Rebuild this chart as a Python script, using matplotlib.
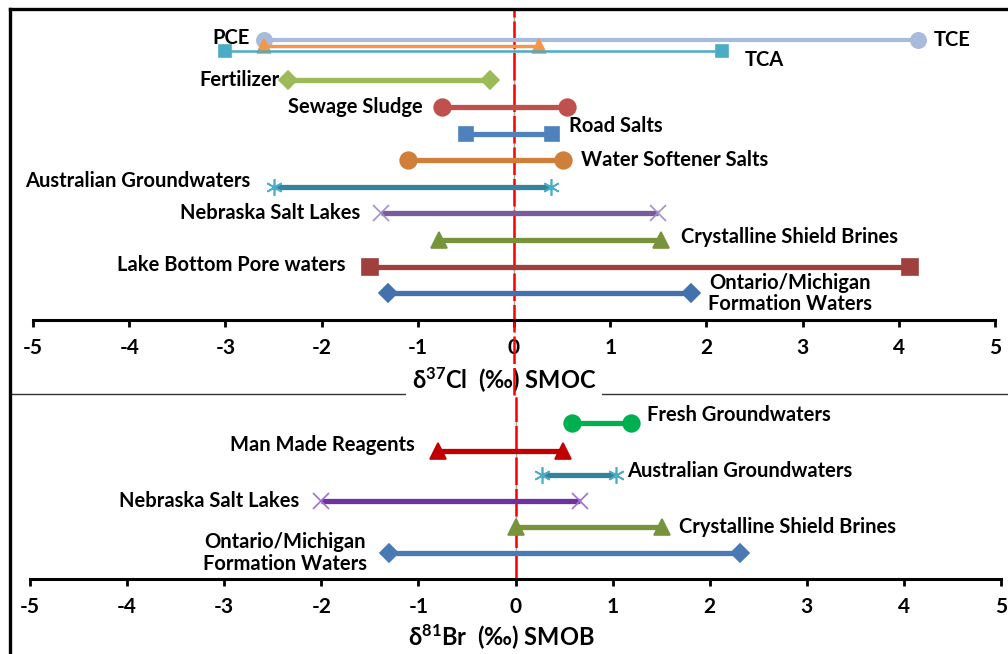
import matplotlib
matplotlib.use('Agg')
import matplotlib.pyplot as plt
from matplotlib.lines import Line2D

plt.rcParams['font.family'] = ['Lato', 'DejaVu Sans']
plt.rcParams['font.weight'] = 'bold'
plt.rcParams['mathtext.fontset'] = 'custom'
plt.rcParams['mathtext.rm'] = 'Lato'
plt.rcParams['mathtext.bf'] = 'Lato:bold'
plt.rcParams['mathtext.it'] = 'Lato:italic'

# ---- chlorine isotopes (top panel) ----
cl_names = ['PCE/TCE', 'DCE', 'TCA', 'Fertilizer', 'Sewage Sludge', 'Road Salts',
            'Water Softener Salts', 'Australian Groundwaters', 'Nebraska Salt Lakes',
            'Crystalline Shield Brines', 'Lake Bottom Pore waters',
            'Ontario/Michigan\nFormation Waters']
cl_low = [-2.6, -2.6, -3.0, -2.35, -0.75, -0.5, -1.1, -2.5, -1.38, -0.78, -1.5, -1.31]
cl_high = [4.2, 0.26, 2.16, -0.25, 0.55, 0.4, 0.51, 0.38, 1.5, 1.53, 4.12, 1.84]
cl_rows = [10.5, 10.3, 10.1, 9, 8, 7, 6, 5, 4, 3, 2, 1]
cl_left_labels = ['PCE', '', '', 'Fertilizer', 'Sewage Sludge', '', '',
                  'Australian Groundwaters', 'Nebraska Salt Lakes', '',
                  'Lake Bottom Pore waters', '']
cl_right_labels = ['TCE', '', 'TCA', '', '', 'Road Salts', 'Water Softener Salts', '',
                   '', 'Crystalline Shield Brines', '',
                   'Ontario/Michigan\nFormation Waters']

# ---- bromine isotopes (bottom panel) ----
br_names = ['Fresh Groundwaters', 'Man Made Reagents', 'Australian Groundwaters',
            'Nebraska Salt Lakes', 'Crystalline Shield Brines',
            'Ontario/Michigan\nFormation Waters']
br_low = [0.58, -0.8, 0.27, -2.0, 0.0, -1.3]
br_high = [1.19, 0.49, 1.03, 0.66, 1.51, 2.31]
br_rows = [6, 4.92, 4, 3, 2, 1]
br_left_labels = ['', 'Man Made Reagents', '', 'Nebraska Salt Lakes', '',
                  'Ontario/Michigan\nFormation Waters']
br_right_labels = ['Fresh Groundwaters', '', 'Australian Groundwaters', '',
                   'Crystalline Shield Brines', '']

xticks = [-5, -4, -3, -2, -1, 0, 1, 2, 3, 4, 5]

# styles: color, marker, markersize, linewidth, marker edge color
STAR = (6, 2, 0)
cl_styles = [
    ('#a9bbdb', 'o', 11, 3.0, '#a9bbdb'),
    ('#f79646', '^', 10, 2.4, '#f79646'),
    ('#4bacc6', 's', 9, 1.8, '#4bacc6'),
    ('#9bbb59', 'D', 9, 3.8, '#9bbb59'),
    ('#c0504d', 'o', 12, 3.8, '#c0504d'),
    ('#4f81bd', 's', 10, 3.8, '#4f81bd'),
    ('#d07f3a', 'o', 12, 3.8, '#d07f3a'),
    ('#31849b', STAR, 12, 3.8, '#4bacc6'),
    ('#7a5c9e', 'x', 11, 3.8, '#a58fc9'),
    ('#77933c', '^', 12, 3.8, '#77933c'),
    ('#a0403d', 's', 11, 3.8, '#a0403d'),
    ('#4271ad', 'D', 9, 3.8, '#4271ad'),
]
br_styles = [
    ('#00b050', 'o', 12, 3.8, '#00b050'),
    ('#c00000', '^', 12, 3.8, '#c00000'),
    ('#31849b', STAR, 12, 3.8, '#4bacc6'),
    ('#7030a0', 'x', 11, 3.8, '#a070d0'),
    ('#77933c', '^', 12, 3.8, '#77933c'),
    ('#4a7ab5', 'D', 9, 3.8, '#4a7ab5'),
]

# label offsets in pixels (left gap, left dy, right gap, right dy)
cl_offsets = [(14, 2, 16, 0), (0, 0, 0, 0), (0, 0, 23, -9), (8, 0, 0, 0),
              (19, 0, 0, 0), (0, 0, 17, 8), (0, 0, 18, 0), (23, 6, 0, 0),
              (21, 0, 0, 0), (0, 0, 20, 3), (24, 2, 0, 0), (0, 0, 17, 0)]
br_offsets = [(0, 0, 16, 8), (23, 6, 0, 0), (0, 0, 12, 4), (22, 0, 0, 0),
              (0, 0, 17, 0), (22, 0, 0, 0)]

PX = 0.72  # points per pixel at 100 dpi
LABEL_SIZE = 14.5


def draw_panel(ax, low, high, rows, styles, left_labels, right_labels, offsets):
    for lo, hi, r, st, ll, rl, off in zip(low, high, rows, styles,
                                          left_labels, right_labels, offsets):
        color, marker, ms, lw, mec = st
        ax.plot([lo, hi], [r, r], color=color, lw=lw, marker=marker, ms=ms,
                mfc=mec, mec=mec, mew=1.2, solid_capstyle='butt', zorder=3,
                clip_on=False)
        if ll:
            ax.annotate(ll, (lo, r), xytext=(-off[0] * PX, off[1] * PX),
                        textcoords='offset points', ha='right', va='center',
                        fontsize=LABEL_SIZE, fontweight='bold',
                        multialignment='center', linespacing=1.1)
        if rl:
            ax.annotate(rl, (hi, r), xytext=(off[2] * PX, off[3] * PX),
                        textcoords='offset points', ha='left', va='center',
                        fontsize=LABEL_SIZE, fontweight='bold',
                        multialignment='center', linespacing=1.1)


def style_axis(ax, ylim):
    ax.set_xlim(-5, 5)
    ax.set_ylim(*ylim)
    for side in ['top', 'right', 'left']:
        ax.spines[side].set_visible(False)
    ax.spines['bottom'].set_linewidth(2.2)
    ax.set_yticks([])
    ax.set_xticks(xticks)
    ax.set_xticklabels([str(t) for t in xticks])
    ax.tick_params(axis='x', direction='out', length=5, width=2, pad=8,
                   labelsize=15)
    for lab in ax.get_xticklabels():
        lab.set_fontweight('bold')
    ax.axvline(0, color='#a6a6a6', lw=1, zorder=1)
    ax.patch.set_alpha(0)


W, H = 1008, 654
fig = plt.figure(figsize=(W / 100, H / 100), dpi=100)

ax1 = fig.add_axes([33 / W, 1 - 320 / H, (995 - 33) / W, (320 - 10) / H])
ax2 = fig.add_axes([30 / W, 1 - 579 / H, (1001 - 30) / W, (579 - 397) / H])

style_axis(ax1, (0, 11.64))
style_axis(ax2, (0, 7.0))

draw_panel(ax1, cl_low, cl_high, cl_rows, cl_styles, cl_left_labels,
           cl_right_labels, cl_offsets)
draw_panel(ax2, br_low, br_high, br_rows, br_styles, br_left_labels,
           br_right_labels, br_offsets)

# red dashed zero line through both panels
ax1.axvline(0, ymin=-(395 - 320) / 310, ymax=1, color='#ff0000', lw=1.8,
            dashes=(11, 1.6), clip_on=False, zorder=2)
ax2.axvline(0, ymin=0, ymax=1, color='#ff0000', lw=1.8, dashes=(11, 1.6),
            zorder=2)

ax1.set_xlabel(r'δ$^{\mathbf{37}}$Cl  (‰) SMOC', fontsize=17, fontweight='bold',
               bbox=dict(facecolor='white', edgecolor='none', pad=4))
ax1.xaxis.set_label_coords(0.49, -60 / 310)
ax1.xaxis.label.set_verticalalignment('center')
ax1.xaxis.label.set_zorder(5)

ax2.set_xlabel(r'δ$^{\mathbf{81}}$Br  (‰) SMOB', fontsize=17, fontweight='bold')
ax2.xaxis.set_label_coords(0.485, -58 / 182)
ax2.xaxis.label.set_verticalalignment('center')

# frame lines
fig.add_artist(Line2D([10 / W, 1], [1 - 9 / H, 1 - 9 / H], color='black', lw=2.4))
fig.add_artist(Line2D([10 / W, 10 / W], [0, 1 - 9 / H], color='black', lw=2.4))
fig.add_artist(Line2D([10 / W, 1], [1 - 394 / H, 1 - 394 / H], color='#333333',
                      lw=1.0, zorder=0))

fig.savefig('out.png', dpi=100)
